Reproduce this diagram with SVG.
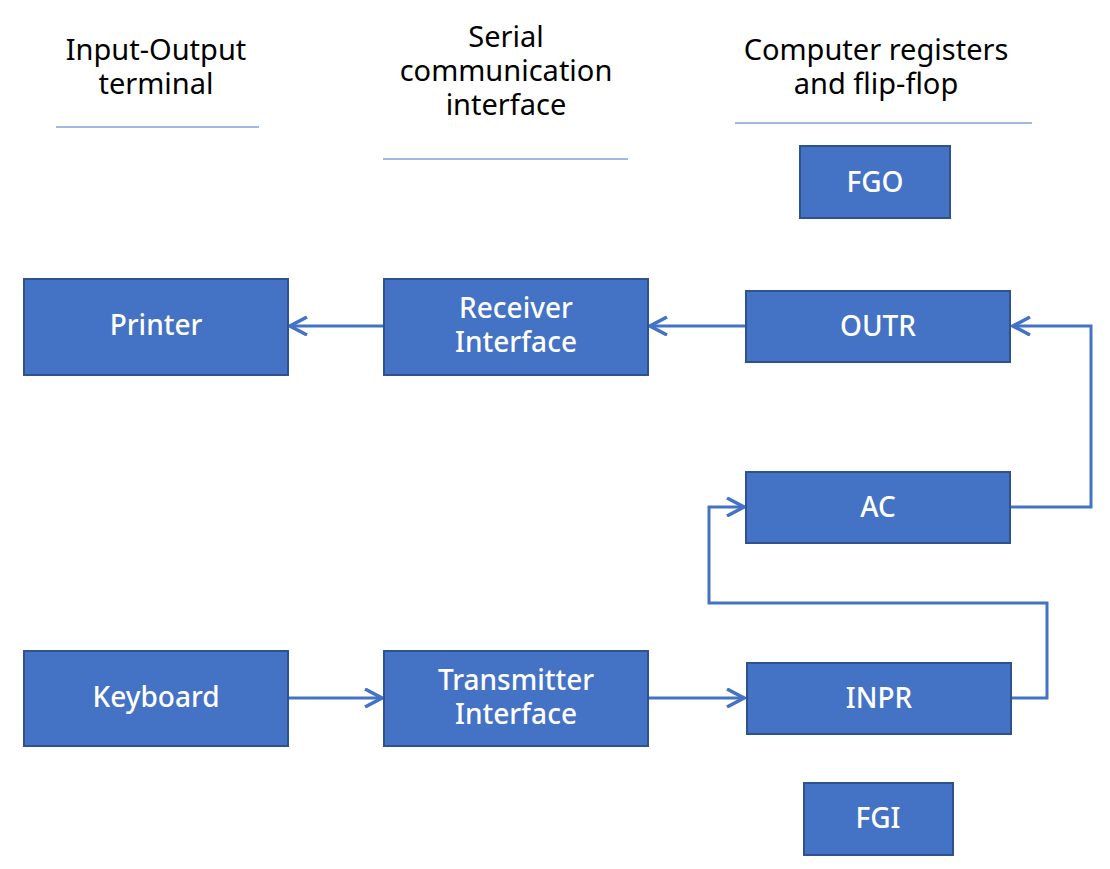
<svg xmlns="http://www.w3.org/2000/svg" width="1110" height="869" viewBox="0 0 1110 869">
<style>
.box{fill:#4472C4;stroke:#2F528F;stroke-width:2}
.lbl{font-family:"Noto Sans","Open Sans",sans-serif;font-size:28px;fill:#fff;text-anchor:middle;font-weight:500}
.hd{font-family:"Noto Sans","Open Sans",sans-serif;font-size:29px;fill:#000;text-anchor:middle}
.rule{stroke:#4472C4;stroke-width:1}
.conn{fill:none;stroke:#4472C4;stroke-width:3}
</style>
<defs>
<marker id="arr" viewBox="0 0 20 20" refX="18" refY="10" markerWidth="20" markerHeight="20" markerUnits="userSpaceOnUse" orient="auto">
<polyline points="1,1 18,10 1,19" fill="none" stroke="#4472C4" stroke-width="3.5"/>
</marker>
</defs>
<g id="headers">
<text class="hd" x="156" y="60">Input-Output</text>
<text class="hd" x="156" y="94">terminal</text>
<line class="rule" x1="56" y1="127" x2="259" y2="127"/>
<text class="hd" x="506" y="47">Serial</text>
<text class="hd" x="506" y="81">communication</text>
<text class="hd" x="506" y="115">interface</text>
<line class="rule" x1="383" y1="159" x2="628" y2="159"/>
<text class="hd" x="876" y="60">Computer registers</text>
<text class="hd" x="876" y="94">and flip-flop</text>
<line class="rule" x1="735" y1="123" x2="1032" y2="123"/>
</g>
<g id="connectors">
<line class="conn" x1="383" y1="326" x2="290" y2="326" marker-end="url(#arr)"/>
<line class="conn" x1="745" y1="326" x2="650" y2="326" marker-end="url(#arr)"/>
<polyline class="conn" points="1011,507 1091,507 1091,326 1013,326" marker-end="url(#arr)"/>
<polyline class="conn" points="1012,698 1047,698 1047,603 709,603 709,507 744,507" marker-end="url(#arr)"/>
<line class="conn" x1="289" y1="698" x2="382" y2="698" marker-end="url(#arr)"/>
<line class="conn" x1="649" y1="698" x2="744" y2="698" marker-end="url(#arr)"/>
</g>
<g id="printer"><rect class="box" x="24" y="279" width="264" height="96"/><text class="lbl" x="156" y="335">Printer</text></g>
<g id="receiver"><rect class="box" x="384" y="279" width="264" height="96"/><text class="lbl" x="516" y="318">Receiver</text><text class="lbl" x="516" y="352">Interface</text></g>
<g id="fgo"><rect class="box" x="800" y="146" width="150" height="72"/><text class="lbl" x="875" y="192">FGO</text></g>
<g id="outr"><rect class="box" x="746" y="291" width="264" height="71"/><text class="lbl" x="878" y="336">OUTR</text></g>
<g id="ac"><rect class="box" x="746" y="472" width="264" height="71"/><text class="lbl" x="878" y="517">AC</text></g>
<g id="keyboard"><rect class="box" x="24" y="651" width="264" height="95"/><text class="lbl" x="156" y="707">Keyboard</text></g>
<g id="transmitter"><rect class="box" x="384" y="651" width="264" height="95"/><text class="lbl" x="516" y="690">Transmitter</text><text class="lbl" x="516" y="724">Interface</text></g>
<g id="inpr"><rect class="box" x="747" y="663" width="264" height="71"/><text class="lbl" x="879" y="708">INPR</text></g>
<g id="fgi"><rect class="box" x="804" y="783" width="149" height="72"/><text class="lbl" x="878" y="828">FGI</text></g>
</svg>
